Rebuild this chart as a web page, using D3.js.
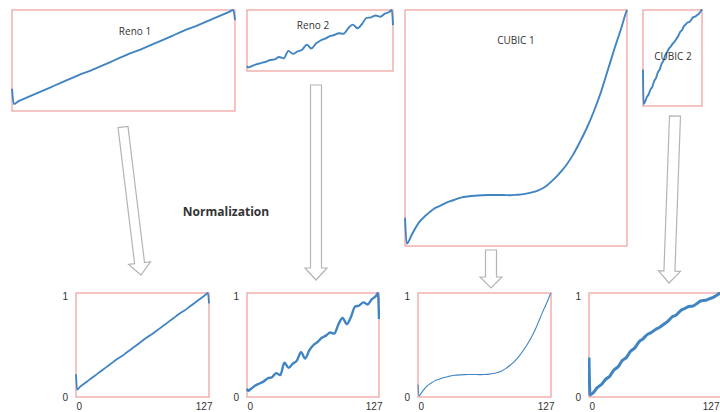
<!DOCTYPE html>
<html><head><meta charset="utf-8">
<script src="https://cdn.jsdelivr.net/npm/d3@7"></script>
<style>body{margin:0;background:#fff;}svg{display:block;font-family:"Open Sans",Lato,sans-serif;}</style>
</head><body><svg id="c" width="720" height="412"></svg>
<script>
// ---- data ----
const xIndex = [0,1,4,8,12,16,20,24,28,32,36,40,44,48,52,56,60,64,68,72,76,80,84,88,92,96,100,104,108,112,116,120,124,126,127];
const reno1 = [0.22,0.07,0.10,0.13,0.16,0.19,0.22,0.25,0.28,0.31,0.34,0.37,0.395,0.425,0.455,0.485,0.515,0.545,0.575,0.60,0.63,0.66,0.69,0.72,0.75,0.78,0.81,0.835,0.865,0.895,0.925,0.955,0.985,1.0,0.9];
const reno2 = [0.08,0.06,0.08,0.11,0.13,0.15,0.18,0.19,0.23,0.21,0.33,0.28,0.32,0.35,0.43,0.37,0.45,0.50,0.53,0.57,0.59,0.62,0.61,0.70,0.76,0.70,0.77,0.87,0.88,0.91,0.89,0.94,0.97,1.0,0.75];
const cubic1 = [0.12,0.01,0.05,0.10,0.13,0.155,0.17,0.185,0.195,0.205,0.21,0.213,0.215,0.216,0.216,0.216,0.215,0.217,0.22,0.226,0.235,0.25,0.275,0.305,0.34,0.385,0.44,0.50,0.57,0.65,0.745,0.84,0.93,0.98,1.0];
const cubic2 = [0.38,0.02,0.04,0.09,0.12,0.17,0.20,0.26,0.29,0.35,0.38,0.44,0.47,0.53,0.56,0.60,0.62,0.65,0.67,0.70,0.73,0.77,0.79,0.83,0.85,0.87,0.875,0.90,0.925,0.93,0.945,0.96,0.985,1.0,0.99];
const seriesNames = ["Reno 1","Reno 2","CUBIC 1","CUBIC 2"];
const seriesValues = [reno1, reno2, cubic1, cubic2];
const xTickLabels = [0,127];
const yTickLabels = [0,1];
const middleLabel = "Normalization";

// ---- layout ----
const topPanels = [
  {x0:12,x1:235,y0:10,y1:111,tx:135,ty:35,w:1.9},
  {x0:247,x1:393,y0:10,y1:71,tx:313,ty:29,w:1.9},
  {x0:405,x1:627,y0:10,y1:246,tx:516,ty:44,w:1.9},
  {x0:643,x1:702,y0:10,y1:106,tx:673,ty:60,w:1.9}
];
const bottomPanels = [
  {x0:76,x1:209,w:1.8,lx:3},
  {x0:247,x1:379,w:2.4,lx:3},
  {x0:418,x1:551,w:1.1,lx:3},
  {x0:589,x1:721,w:3,lx:-2}
];
const bY0 = 293, bY1 = 397;
const arrows = [
  {x1:123,y1:127,x2:141,y2:275,sw:10,hw:22,hl:12},
  {x1:316,y1:85,x2:316,y2:280,sw:11,hw:22,hl:12},
  {x1:491,y1:250,x2:491,y2:288,sw:11,hw:22,hl:11},
  {x1:675,y1:116,x2:669,y2:283,sw:11,hw:22,hl:12}
];
const borderColor = "#f2aaaa", lineColor = "#4084c2", arrowColor = "#b4b4b4", textColor = "#333";

const svg = d3.select("#c");

// arrows
arrows.forEach(a => {
  const dx = a.x2-a.x1, dy = a.y2-a.y1, L = Math.hypot(dx,dy);
  const ux = dx/L, uy = dy/L, px = -uy, py = ux;
  const bx = a.x2-ux*a.hl, by = a.y2-uy*a.hl;
  const s = a.sw/2, h = a.hw/2;
  const pts = [
    [a.x1+px*s, a.y1+py*s],[bx+px*s, by+py*s],[bx+px*h, by+py*h],[a.x2,a.y2],
    [bx-px*h, by-py*h],[bx-px*s, by-py*s],[a.x1-px*s, a.y1-py*s]
  ];
  svg.append("path").attr("d", d3.line()(pts)+"Z")
    .attr("fill","#fff").attr("stroke",arrowColor).attr("stroke-width",1.2);
});

function drawPanel(p, y0, y1, vals, width, clipId){
  const x = d3.scaleLinear().domain([0,127]).range([p.x0, p.x1]);
  const y = d3.scaleLinear().domain([0,1]).range([y1, y0]);
  const data = xIndex.map((xi,i)=>[xi, vals[i]]);
  svg.append("clipPath").attr("id",clipId).append("rect")
    .attr("x",p.x0-1).attr("y",y0-1).attr("width",p.x1-p.x0+2).attr("height",y1-y0+2);
  svg.append("rect").attr("x",p.x0).attr("y",y0).attr("width",p.x1-p.x0).attr("height",y1-y0)
    .attr("fill","#fff").attr("stroke",borderColor).attr("stroke-width",1.4);
  svg.append("path").datum(data).attr("clip-path",`url(#${clipId})`)
    .attr("d", d3.line().x(d=>x(d[0])).y(d=>y(d[1])).curve(d3.curveMonotoneX))
    .attr("fill","none").attr("stroke",lineColor).attr("stroke-width",width)
    .attr("stroke-linejoin","round");
  return {x,y};
}

topPanels.forEach((p,i) => {
  drawPanel(p, p.y0, p.y1, seriesValues[i], p.w, "ct"+i);
  svg.append("text").attr("x",p.tx).attr("y",p.ty).attr("text-anchor","middle")
    .attr("font-size",10).attr("fill",textColor).text(seriesNames[i]);
});

bottomPanels.forEach((p,i) => {
  const {x,y} = drawPanel(p, bY0, bY1, seriesValues[i], p.w, "cb"+i);
  const xa = svg.append("g").attr("transform",`translate(0,${bY1+6})`)
    .call(d3.axisBottom(x).tickValues(xTickLabels).tickSize(0).tickPadding(0).tickFormat(d3.format("d")));
  xa.select(".domain").remove();
  xa.selectAll("text").attr("font-size",10).attr("fill",textColor).attr("font-family",null)
    .attr("dy","0.71em")
    .attr("text-anchor",d=>d===0?"start":"end")
    .attr("dx",d=>d===0?"0":p.lx);
  const ya = svg.append("g").attr("transform",`translate(${p.x0-8},0)`)
    .call(d3.axisLeft(y).tickValues(yTickLabels).tickSize(0).tickPadding(0).tickFormat(d3.format("d")));
  ya.select(".domain").remove();
  ya.selectAll("text").attr("font-size",10).attr("fill",textColor).attr("font-family",null)
    .attr("dy",d=>d===1?"0.6em":"0.32em");
});

svg.append("text").attr("x",226).attr("y",216).attr("text-anchor","middle")
  .attr("font-size",12).attr("font-weight","bold").attr("fill",textColor).text(middleLabel);
</script></body></html>
